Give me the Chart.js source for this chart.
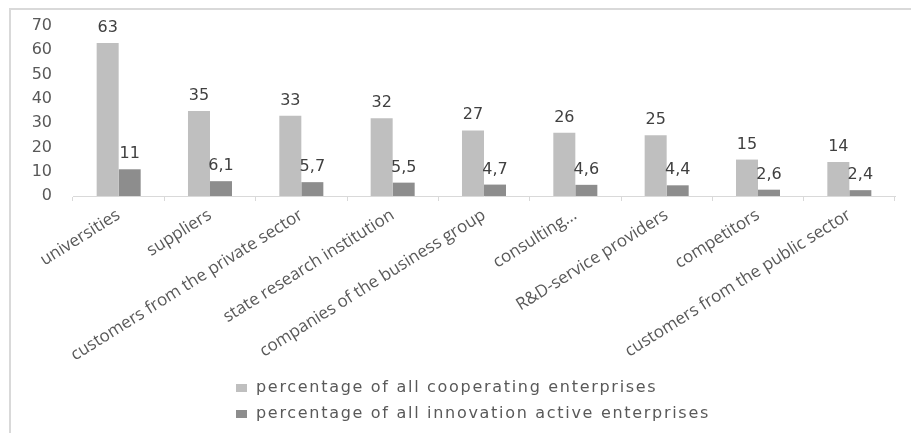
<!DOCTYPE html>
<html>
<head>
<meta charset="utf-8">
<script src="https://cdn.jsdelivr.net/npm/chart.js@4.4.1/dist/chart.umd.min.js"></script>
<style>
html, body { margin: 0; padding: 0; background: #fff; overflow: hidden; }
#wrap { position: relative; width: 911px; height: 433px; overflow: hidden; }
#legend { position: absolute; left: 236px; top: 374px; font-family: 'DejaVu Sans', sans-serif;
          font-size: 16px; color: #595959; letter-spacing: 1.7px; }
#legend div { height: 26px; line-height: 26px; white-space: nowrap; }
#legend span { display: inline-block; width: 11px; height: 8px; margin-right: 9px; vertical-align: 0; }
canvas { position: absolute; left: 0; top: 0; }
</style>
</head>
<body>
<div id="wrap">
  <canvas id="chart" width="911" height="433"></canvas>
  <div id="legend"></div>
</div>
<script>
const categories = [
    'universities',
    'suppliers',
    'customers from the private sector',
    'state research institution',
    'companies of the business group',
    'consulting...',
    'R&D-service providers',
    'competitors',
    'customers from the public sector'
];
const cooperating = [63, 35, 33, 32, 27, 26, 25, 15, 14];
const innovationActive = [11, 6.1, 5.7, 5.5, 4.7, 4.6, 4.4, 2.6, 2.4];
const seriesNames = [
    'percentage of all cooperating enterprises',
    'percentage of all innovation active enterprises'
];
const seriesColors = ['#bfbfbf', '#8d8d8d'];

// thin grey frame on the top and left edge
const frame = {
    id: 'frame',
    beforeDraw(chart) {
        const c = chart.ctx;
        c.save();
        c.strokeStyle = '#d9d9d9';
        c.lineWidth = 2;
        c.beginPath();
        c.moveTo(10, chart.height);
        c.lineTo(10, 9);
        c.lineTo(chart.width, 9);
        c.stroke();
        c.restore();
    }
};

// values above bars, with decimal comma
const valueLabels = {
    id: 'valueLabels',
    afterDatasetsDraw(chart) {
        const c = chart.ctx;
        c.save();
        c.font = '16px "DejaVu Sans"';
        c.fillStyle = '#404040';
        c.textAlign = 'center';
        c.textBaseline = 'alphabetic';
        chart.data.datasets.forEach(function(ds, i) {
            chart.getDatasetMeta(i).data.forEach(function(bar, j) {
                const txt = String(ds.data[j]).replace('.', ',');
                c.fillText(txt, bar.x, bar.y - 11);
            });
        });
        c.restore();
    }
};

const ctx = document.getElementById('chart');
const myChart = new Chart(ctx, {
    type: 'bar',
    data: {
        labels: categories,
        datasets: [{
            label: seriesNames[0],
            data: cooperating,
            backgroundColor: seriesColors[0]
        }, {
            label: seriesNames[1],
            data: innovationActive,
            backgroundColor: seriesColors[1]
        }]
    },
    options: {
        responsive: false,
        animation: false,
        layout: { padding: { top: 26, right: 16, left: 0, bottom: 0 } },
        datasets: {
            bar: { categoryPercentage: 0.482, barPercentage: 1 }
        },
        scales: {
            y: {
                min: 0,
                max: 70,
                ticks: {
                    stepSize: 10,
                    padding: 21,
                    color: '#595959',
                    font: { family: 'DejaVu Sans', size: 16 }
                },
                grid: { display: false, drawTicks: false },
                border: { display: false },
                afterFit: function(scale) {
                    scale.width = 73;
                    // tick padding should not push the plot down
                    scale.paddingTop = 0;
                    scale.paddingBottom = 0;
                }
            },
            x: {
                ticks: {
                    autoSkip: false,
                    minRotation: 32,
                    maxRotation: 32,
                    padding: 4,
                    color: '#595959',
                    font: { family: 'Open Sans', size: 17 }
                },
                grid: {
                    drawOnChartArea: false,
                    drawTicks: true,
                    tickLength: 5,
                    color: '#d9d9d9'
                },
                border: { display: true, color: '#d9d9d9', width: 1 },
                afterFit: function(scale) { scale.height = 237; }
            }
        },
        plugins: {
            legend: { display: false },
            tooltip: { enabled: false }
        }
    },
    plugins: [frame, valueLabels]
});

// legend as two rows under the axis
const legendBox = document.getElementById('legend');
myChart.data.datasets.forEach(function(ds) {
    const row = document.createElement('div');
    const sw = document.createElement('span');
    sw.style.background = ds.backgroundColor;
    row.appendChild(sw);
    row.appendChild(document.createTextNode(ds.label));
    legendBox.appendChild(row);
});
</script>
</body>
</html>
